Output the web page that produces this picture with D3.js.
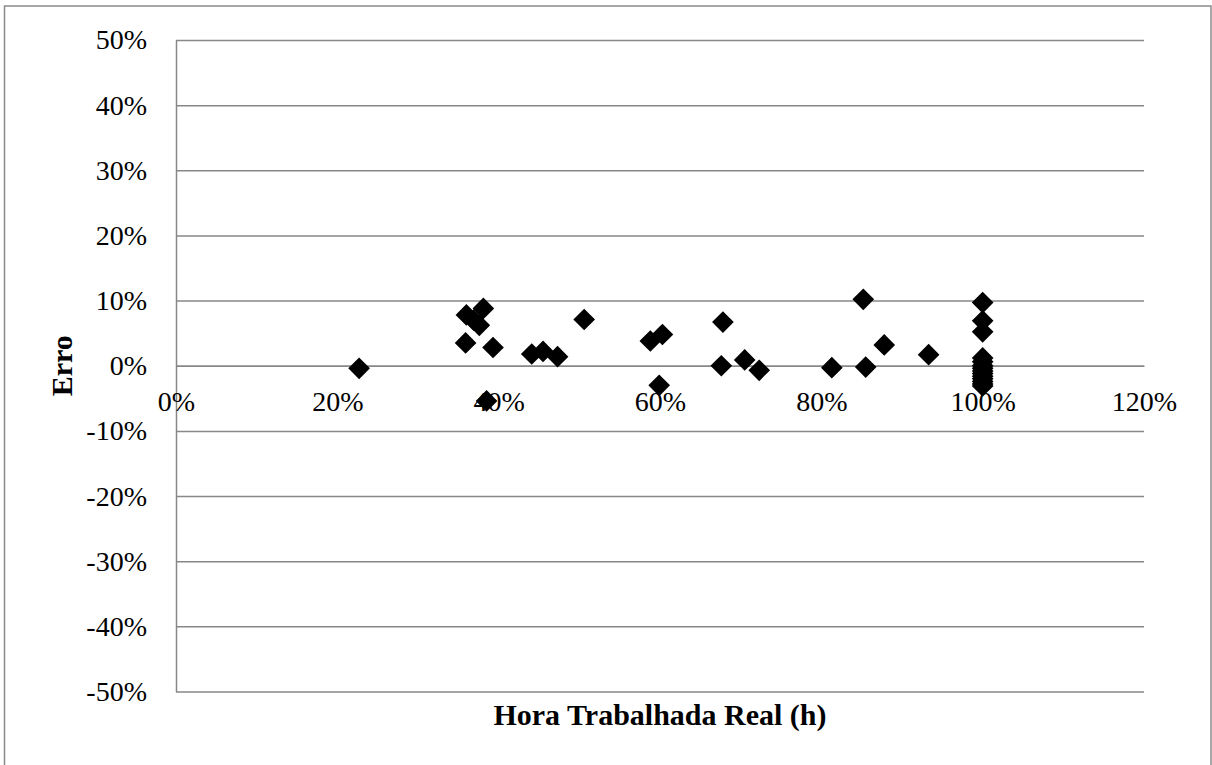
<!DOCTYPE html>
<html>
    <head>
        <meta charset="utf-8">
        <title>Erro x Hora Trabalhada Real</title>
        <script src="https://d3js.org/d3.v7.min.js"></script>
    </head>
    <style>
        body { margin: 0; background: #fff; }
        text { font-family: "Liberation Serif", "Times New Roman", serif; fill: #000; }
    </style>
    <body>

        <div id="chart"></div>

        <script>
            // horas trabalhadas reais (fracao) e erro correspondente
            var horaReal = [0.227, 0.359, 0.360, 0.369, 0.376, 0.381, 0.385, 0.393, 0.441, 0.455, 0.473, 0.506,
                            0.588, 0.603, 0.599, 0.678, 0.676, 0.705, 0.723, 0.813, 0.852, 0.855, 0.878, 0.933,
                            1.0, 1.0, 1.0, 1.0, 1.0, 1.0, 1.0, 1.0, 1.0, 1.0, 1.0, 1.0, 1.0, 1.0];
            var erro = [-0.004, 0.035, 0.078, 0.070, 0.062, 0.088, -0.054, 0.028, 0.018, 0.022, 0.014, 0.071,
                        0.038, 0.048, -0.030, 0.067, 0.000, 0.009, -0.007, -0.003, 0.102, -0.002, 0.032, 0.017,
                        0.097, 0.069, 0.052, 0.012, 0.006, 0.000, -0.004, -0.008, -0.012, -0.016, -0.020, -0.024, -0.028, -0.031];

            var xTicks = [0, 0.2, 0.4, 0.6, 0.8, 1.0, 1.2];
            var yTicks = [-0.5, -0.4, -0.3, -0.2, -0.1, 0, 0.1, 0.2, 0.3, 0.4, 0.5];

            var W = 1212, H = 765;
            // area do grafico (window.top e reservado, por isso o objeto)
            var plot = {left: 176, right: 1144, top: 40, bottom: 691.5};

            var svg = d3.select("#chart").append("svg")
                .attr("width", W)
                .attr("height", H);

            // moldura externa
            svg.append("rect")
                .attr("x", 4.5).attr("y", 6)
                .attr("width", 1206.5).attr("height", 800)
                .attr("fill", "none")
                .attr("stroke", "#8a8a8a")
                .attr("stroke-width", 1.5);

            var x = d3.scaleLinear().domain([0, 1.2]).range([plot.left, plot.right]);
            var y = d3.scaleLinear().domain([-0.5, 0.5]).range([plot.bottom, plot.top]);

            var pct = function(d) { return Math.round(d * 100) + "%"; };

            // eixo Y com linhas de grade
            var gy = svg.append("g")
                .attr("transform", "translate(" + plot.left + ",0)")
                .call(d3.axisLeft(y)
                    .tickValues(yTicks)
                    .tickFormat(pct)
                    .tickSizeInner(-(plot.right - plot.left))
                    .tickSizeOuter(0)
                    .tickPadding(29));
            gy.selectAll("line").attr("stroke", "#878787").attr("stroke-width", 1.5);
            gy.select(".domain").attr("stroke", "#878787").attr("stroke-width", 1.5);
            gy.selectAll("text").attr("font-size", "28px").attr("font-family", "Liberation Serif, serif");

            // eixo X em 0%
            var gx = svg.append("g")
                .attr("transform", "translate(0," + y(0) + ")")
                .call(d3.axisBottom(x)
                    .tickValues(xTicks)
                    .tickFormat(pct)
                    .tickSize(0)
                    .tickPadding(25));
            gx.select(".domain").attr("stroke", "#878787").attr("stroke-width", 1.5);
            gx.selectAll("text").attr("font-size", "28px").attr("font-family", "Liberation Serif, serif");

            // pontos (losangos)
            var diamond = d3.symbol().type(d3.symbolSquare).size(235);
            svg.append("g").selectAll("path")
                .data(horaReal)
                .enter().append("path")
                .attr("d", diamond)
                .attr("transform", function(d, i) {
                    return "translate(" + x(d) + "," + y(erro[i]) + ") rotate(45)";
                })
                .attr("fill", "#000");

            // titulos dos eixos
            svg.append("text")
                .attr("x", (plot.left + plot.right) / 2)
                .attr("y", 725)
                .attr("text-anchor", "middle")
                .attr("font-size", "30px")
                .attr("font-weight", "bold")
                .text("Hora Trabalhada Real (h)");

            svg.append("text")
                .attr("transform", "translate(72," + y(0) + ") rotate(-90)")
                .attr("text-anchor", "middle")
                .attr("font-size", "30px")
                .attr("font-weight", "bold")
                .text("Erro");
        </script>
    </body>
</html>
